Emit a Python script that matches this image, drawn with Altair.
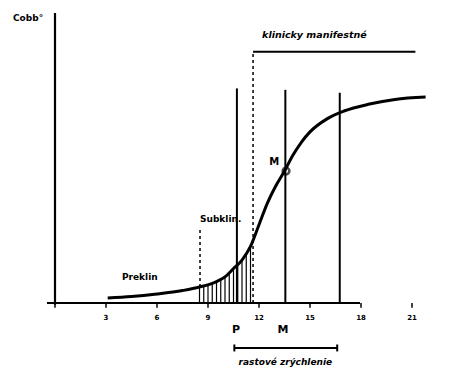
import altair as alt
import pandas as pd

# curve (age in years vs Cobb angle, arbitrary units)
curve_x = [3.1, 4.5, 6.0, 7.5, 8.5, 9.5, 10.0, 10.5, 11.0, 11.5, 12.0, 12.5, 13.0, 13.5,
           14.0, 14.5, 15.0, 16.0, 17.0, 18.5, 20.0, 21.8]
curve_y = [1.7, 2.2, 3.1, 4.3, 5.5, 7.4, 9.0, 11.9, 14.8, 19.5, 27.0, 34.5, 40.5, 45.5,
           51.0, 55.5, 59.0, 63.5, 66.2, 68.6, 70.2, 71.0]

# hatching under the curve
hatch_x = [8.5, 8.75, 9.0, 9.25, 9.5, 9.75, 10.0, 10.25, 10.5, 10.75, 11.0, 11.25, 11.5]
hatch_top = [5.5, 5.9, 6.3, 6.9, 7.4, 8.1, 9.0, 10.3, 11.9, 13.3, 14.8, 17.0, 19.5]

# vertical markers
vline_x = [10.7, 13.55, 16.75]
vline_top = [74.0, 73.5, 72.5]

tick_vals = [0, 3, 6, 9, 12, 15, 18, 21]
tick_labels = ["", "3", "6", "9", "12", "15", "18", "21"]

M_point = (13.59, 45.5)

X_DOM = [-55 / 17, 414 / 17]
Y_DOM = [-65 / 2.9, 303 / 2.9]

xs = alt.Scale(domain=X_DOM, nice=False, zero=False)
ys = alt.Scale(domain=Y_DOM, nice=False, zero=False)

def X(f="x"):
    return alt.X(f"{f}:Q", scale=xs, axis=None)

def Y(f="y"):
    return alt.Y(f"{f}:Q", scale=ys, axis=None)

layers = []

# axes
axes_df = pd.DataFrame({"x": [-0.47, 0.0], "x2": [17.94, 0.0], "y": [0.0, -0.6], "y2": [0.0, 100.0]})
layers.append(alt.Chart(axes_df).mark_rule(color="black", strokeWidth=2.2).encode(
    x=X(), x2="x2:Q", y=Y(), y2="y2:Q"))

ticks_df = pd.DataFrame({"x": tick_vals, "y": [0.0] * len(tick_vals), "y2": [-1.6] * len(tick_vals),
                         "label": tick_labels, "ly": [-5.2] * len(tick_vals)})
layers.append(alt.Chart(ticks_df).mark_rule(color="black", strokeWidth=1.5).encode(
    x=X(), y=Y(), y2="y2:Q"))
layers.append(alt.Chart(ticks_df).mark_text(fontSize=7, fontWeight="bold", font="DejaVu Sans",
                                            color="black").encode(
    x=X(), y=Y("ly"), text="label:N"))

# hatching
hatch_df = pd.DataFrame({"x": hatch_x, "y": [0.0] * len(hatch_x), "y2": hatch_top})
layers.append(alt.Chart(hatch_df).mark_rule(color="black", strokeWidth=1.2).encode(
    x=X(), y=Y(), y2="y2:Q"))

# vertical lines
vl_df = pd.DataFrame({"x": vline_x, "y": [0.0] * 3, "y2": vline_top})
layers.append(alt.Chart(vl_df).mark_rule(color="black", strokeWidth=2).encode(
    x=X(), y=Y(), y2="y2:Q"))

# dashed lines
dash_df = pd.DataFrame({"x": [11.65, 8.53], "y": [0.0, 5.5], "y2": [86.6, 25.9]})
layers.append(alt.Chart(dash_df).mark_rule(color="black", strokeWidth=1.5, strokeDash=[3, 3]).encode(
    x=X(), y=Y(), y2="y2:Q"))

# klinicky manifestne horizontal line
h_df = pd.DataFrame({"x": [11.65], "x2": [21.2], "y": [86.6]})
layers.append(alt.Chart(h_df).mark_rule(color="black", strokeWidth=2).encode(
    x=X(), x2="x2:Q", y=Y()))

# curve
curve_df = pd.DataFrame({"x": curve_x, "y": curve_y})
layers.append(alt.Chart(curve_df).mark_line(color="black", strokeWidth=3, interpolate="monotone").encode(
    x=X(), y=Y()))

# M point
m_df = pd.DataFrame({"x": [M_point[0]], "y": [M_point[1]]})
layers.append(alt.Chart(m_df).mark_point(shape="circle", size=45, filled=False, color="black",
                                         strokeWidth=2.5).encode(x=X(), y=Y()))

# growth-spurt range bar
bar_df = pd.DataFrame({"x": [10.55], "x2": [16.6], "y": [-15.5]})
layers.append(alt.Chart(bar_df).mark_rule(color="black", strokeWidth=2).encode(
    x=X(), x2="x2:Q", y=Y()))
bar_end_df = pd.DataFrame({"x": [10.55, 16.6], "y": [-14.3, -14.3], "y2": [-16.7, -16.7]})
layers.append(alt.Chart(bar_end_df).mark_rule(color="black", strokeWidth=2).encode(
    x=X(), y=Y(), y2="y2:Q"))

# texts
texts = pd.DataFrame({
    "x": [-2.47, 12.18, 8.53, 3.94, 12.9, 10.65, 13.41, 13.55],
    "y": [98.3, 92.4, 29.0, 9.0, 48.6, -9.3, -9.3, -20.3],
    "t": ["Cobb°", "klinicky manifestné", "Subklin.", "Preklin", "M", "P", "M", "rastové zrýchlenie"],
    "align": ["left", "left", "left", "left", "center", "center", "center", "center"],
    "size": [9, 9.5, 9, 9, 10, 11, 11, 9],
    "style": ["normal", "italic", "normal", "normal", "normal", "normal", "normal", "italic"],
})
for _, r in texts.iterrows():
    layers.append(alt.Chart(pd.DataFrame([r])).mark_text(
        align=r["align"], baseline="middle", fontSize=float(r["size"]), fontWeight="bold",
        fontStyle=r["style"], font="DejaVu Sans", color="black").encode(
        x=X(), y=Y(), text="t:N"))

chart = alt.layer(*layers).properties(
    width=469, height=368, padding=0, autosize=alt.AutoSizeParams(type="none"),
    background="white"
).configure_view(stroke=None)

chart.save("out.html", embed_options={"renderer": "svg", "actions": False})
